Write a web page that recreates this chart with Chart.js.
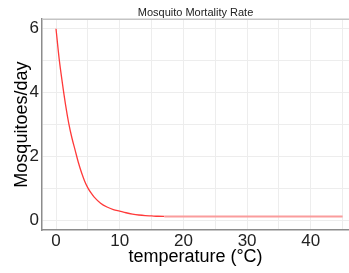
<!DOCTYPE html>
<html>
<head>
<meta charset="utf-8">
<script src="https://cdn.jsdelivr.net/npm/chart.js@4/dist/chart.umd.min.js"></script>
<style>
  html, body { margin: 0; padding: 0; background: #fff; }
  #chart { display: block; }
</style>
</head>
<body>
<canvas id="chart" width="349" height="273"></canvas>
<script>
// temperature (°C) and mortality rate
const temps = [0, 0.5, 1, 1.5, 2, 2.5, 3, 3.5, 4, 4.5, 5, 5.5, 6, 7, 8, 9, 10, 11, 12, 13, 14, 15, 16, 17, 20, 25, 30, 35, 40, 45];
const rates = [6.0, 5.05, 4.3, 3.62, 3.04, 2.58, 2.2, 1.82, 1.5, 1.23, 1.02, 0.86, 0.73, 0.54, 0.42, 0.34, 0.29, 0.24, 0.2, 0.17, 0.15, 0.14, 0.13, 0.125, 0.12, 0.12, 0.12, 0.12, 0.12, 0.12];
const xTicks = [0, 5, 10, 15, 20, 25, 30, 35, 40, 45];
const yTicks = [0, 1, 2, 3, 4, 5, 6];

const FONT = 'Liberation Sans, Arial, sans-serif';

// light top border of the panel
const topBorder = {
    id: 'topBorder',
    afterDraw(chart) {
        const a = chart.chartArea;
        const ctx = chart.ctx;
        ctx.save();
        ctx.strokeStyle = '#c4c4c4';
        ctx.lineWidth = 1.5;
        ctx.beginPath();
        ctx.moveTo(a.left, a.top);
        ctx.lineTo(a.right, a.top);
        ctx.stroke();
        ctx.restore();
    }
};

const ctx = document.getElementById('chart').getContext('2d');
const chart = new Chart(ctx, {
    type: 'line',
    data: {
        datasets: [{
            data: temps.map((t, i) => ({ x: t, y: rates[i] })),
            borderColor: '#ff3a3a',
            borderWidth: 1.3,
            pointRadius: 0,
            fill: false,
            cubicInterpolationMode: 'monotone',
            segment: {
                borderColor: c => c.p0.parsed.x >= 17 ? '#fa9c9c' : undefined,
                borderWidth: c => c.p0.parsed.x >= 17 ? 2 : undefined
            }
        }]
    },
    plugins: [topBorder],
    options: {
        responsive: false,
        animation: false,
        layout: { padding: 0, autoPadding: false },
        plugins: {
            legend: { display: false },
            tooltip: { enabled: false },
            title: {
                display: true,
                text: 'Mosquito Mortality Rate',
                fullSize: false,
                color: '#222',
                font: { family: FONT, size: 11, weight: 'normal' },
                padding: { top: 6, bottom: 0 }
            }
        },
        scales: {
            x: {
                type: 'linear',
                min: -2.2,
                max: 46,
                afterBuildTicks: s => { s.ticks = xTicks.map(v => ({ value: v })); },
                afterFit: s => { s.height = 43; },
                grid: { color: '#ededed', lineWidth: 1, drawTicks: false },
                border: { color: '#8c8c8c', width: 1.5 },
                ticks: {
                    padding: 1,
                    color: '#222',
                    font: { family: FONT, size: 17 },
                    maxRotation: 0,
                    callback: v => v % 10 === 0 ? String(v) : ''
                },
                title: {
                    display: true,
                    text: 'temperature (°C)',
                    color: '#000',
                    font: { family: FONT, size: 18 },
                    padding: { top: 0, bottom: 5 }
                }
            },
            y: {
                min: -0.3,
                max: 6.3,
                afterBuildTicks: s => { s.ticks = yTicks.map(v => ({ value: v })); },
                afterFit: s => { s.width = 42; },
                grid: { color: '#ededed', lineWidth: 1, drawTicks: false },
                border: { color: '#8c8c8c', width: 1.5 },
                ticks: {
                    padding: 3,
                    color: '#222',
                    font: { family: FONT, size: 17 },
                    callback: v => v % 2 === 0 ? String(v) : ''
                },
                title: {
                    display: true,
                    text: 'Mosquitoes/day',
                    color: '#000',
                    font: { family: FONT, size: 18 },
                    padding: { top: 11, bottom: 0 }
                }
            }
        }
    }
});
</script>
</body>
</html>
